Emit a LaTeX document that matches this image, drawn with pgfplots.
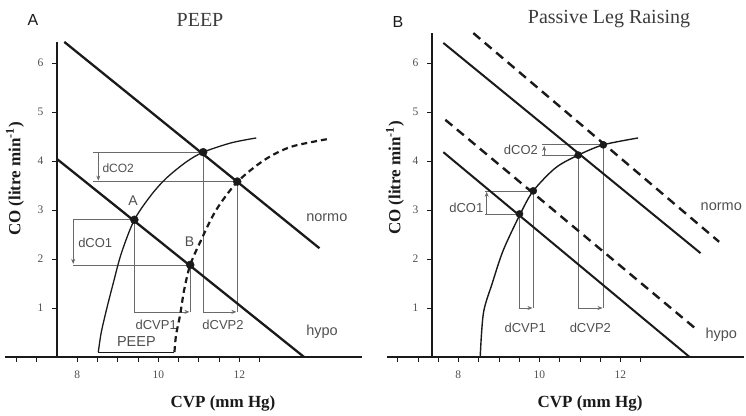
\documentclass[border=0pt]{standalone}
\usepackage{fontspec}
\setmainfont{Liberation Serif}
\newfontfamily\sansf{Liberation Sans}
\usepackage{pgfplots}
\pgfplotsset{compat=1.18}
\usetikzlibrary{arrows.meta}
\definecolor{ink}{HTML}{1A1A1A}
\definecolor{ann}{HTML}{6A6A6A}
\definecolor{lab}{HTML}{505050}
\tikzset{
 annl/.style={ann, line width=0.7pt},
 arr/.style={ann, line width=0.7pt, -{Stealth[length=5pt,width=4pt]}},
 atxt/.style={font=\sansf\fontsize{13}{14}\selectfont, text=lab, inner sep=0pt},
}
\pgfplotsset{
 panel/.style={
  axis lines=middle,
  axis line style={-, ink, line width=1.4pt},
  every inner x axis line/.append style={-},
  every inner y axis line/.append style={-},
  x=40.5pt, y=49pt,
  enlargelimits=false,
  clip=false,
  ymin=0,
  ytick={1,2,3,4,5,6},
  tick align=outside,
  major tick length=5pt, minor tick length=5pt,
  every tick/.style={ink, line width=0.6pt},
  every minor tick/.style={ink, line width=0.6pt},
  tick label style={font=\fontsize{11.5}{13}\selectfont, text=lab},
  yticklabel style={xshift=-5pt},
  xticklabel style={yshift=-5pt},
  /pgf/number format/assume math mode=true,
 },
}
\begin{document}
\begin{tikzpicture}
\useasboundingbox (0,0) rectangle (746pt,415pt);
% ---------------- Panel A ----------------
\begin{axis}[panel, at={(57pt,58pt)}, anchor=origin,
  xmin=-1.28, xmax=7.53, ymax=6.43,
  x filter/.expression={x-7.5},
  xtick={0.5,2.5,4.5}, xticklabels={8,10,12},
  minor xtick={-1,-0.5,1,1.5,2,3,3.5,4,5}]
% annotation lines
\addplot[annl] coordinates {(8.40,4.18) (11.11,4.18)};
\addplot[annl] coordinates {(8.40,3.58) (11.95,3.58)};
\addplot[arr] coordinates {(8.52,4.18) (8.52,3.60)};
\addplot[annl] coordinates {(7.90,2.80) (9.41,2.80)};
\addplot[annl] coordinates {(7.90,1.88) (10.79,1.88)};
\addplot[arr] coordinates {(7.90,2.80) (7.90,1.90)};
\addplot[annl] coordinates {(9.41,2.80) (9.41,0.92)};
\addplot[annl] coordinates {(10.79,1.88) (10.79,0.92)};
\addplot[arr] coordinates {(9.41,0.92) (10.77,0.92)};
\addplot[annl] coordinates {(11.11,4.18) (11.11,0.92)};
\addplot[annl] coordinates {(11.95,3.58) (11.95,0.92)};
\addplot[arr] coordinates {(11.11,0.92) (11.93,0.92)};
% normo and hypo lines
\addplot[ink, line width=2.3pt] coordinates {(7.68,6.43) (13.98,2.22)};
\addplot[ink, line width=2.3pt] coordinates {(7.50,4.04) (13.60,0)};
% cardiac function curve
\addplot[ink, line width=1.3pt, smooth] coordinates {
 (8.52,0.10) (8.59,0.49) (8.72,0.96) (8.89,1.51) (9.09,2.12) (9.41,2.80)
 (9.83,3.31) (10.20,3.65) (10.69,3.98) (11.11,4.18) (11.80,4.37) (12.42,4.47)};
% PEEP shifted curve
\addplot[ink, line width=2.2pt, dash pattern=on 6pt off 4pt, smooth] coordinates {
 (10.40,0.10) (10.44,0.45) (10.54,0.86) (10.64,1.37) (10.79,1.88) (11.06,2.39)
 (11.43,3.00) (11.95,3.57) (12.62,4.02) (13.28,4.29) (14.20,4.45)};
\addplot[ink, line width=1.2pt] coordinates {(8.52,0.10) (10.40,0.10)};
% points
\addplot[only marks, mark=*, mark size=4pt, ink] coordinates {
 (9.41,2.80) (10.79,1.88) (11.11,4.18) (11.95,3.58)};
% labels (x already shifted by 7.5)
\node[atxt, anchor=west, font=\sansf\fontsize{12}{13}\selectfont] at (axis cs:1.12,3.86) {dCO2};
\node[atxt, anchor=west] at (axis cs:0.52,2.33) {dCO1};
\node[atxt] at (axis cs:2.45,0.65) {dCVP1};
\node[atxt, font=\sansf\fontsize{14.5}{15}\selectfont] at (axis cs:1.96,0.31) {PEEP};
\node[atxt] at (axis cs:4.10,0.65) {dCVP2};
\node[atxt, font=\sansf\fontsize{14}{15}\selectfont] at (axis cs:1.88,3.20) {A};
\node[atxt, font=\sansf\fontsize{14}{15}\selectfont] at (axis cs:3.27,2.35) {B};
\node[atxt, anchor=west, font=\sansf\fontsize{14.5}{15}\selectfont] at (axis cs:6.15,2.84) {normo};
\node[atxt, anchor=west, font=\sansf\fontsize{14.5}{15}\selectfont] at (axis cs:6.15,0.51) {hypo};
\end{axis}
% ---------------- Panel B ----------------
\begin{axis}[panel, at={(432pt,58pt)}, anchor=origin,
  xmin=-1.11, xmax=7.70, ymax=6.61,
  x filter/.expression={x-7.35},
  xtick={0.65,2.65,4.65}, xticklabels={8,10,12},
  minor xtick={-0.85,-0.35,0.15,1.15,1.65,2.15,3.15,3.65,4.15,5.15}]
% annotation lines
\addplot[annl] coordinates {(8.67,3.39) (9.85,3.39)};
\addplot[annl] coordinates {(8.67,2.92) (9.51,2.92)};
\addplot[arr] coordinates {(8.70,2.92) (8.70,3.37)};
\addplot[annl] coordinates {(10.07,4.33) (11.58,4.33)};
\addplot[annl] coordinates {(10.07,4.12) (10.96,4.12)};
\addplot[arr] coordinates {(10.12,4.12) (10.12,4.31)};
\addplot[annl] coordinates {(9.51,2.92) (9.51,1.0)};
\addplot[annl] coordinates {(9.85,3.39) (9.85,1.0)};
\addplot[arr] coordinates {(9.51,1.0) (9.83,1.0)};
\addplot[annl] coordinates {(10.96,4.12) (10.96,1.0)};
\addplot[annl] coordinates {(11.58,4.33) (11.58,1.0)};
\addplot[arr] coordinates {(10.96,1.0) (11.56,1.0)};
% lines
\addplot[ink, line width=2pt] coordinates {(7.63,6.41) (13.98,2.12)};
\addplot[ink, line width=2.4pt, dash pattern=on 9pt off 6pt] coordinates {(8.37,6.61) (14.44,2.35)};
\addplot[ink, line width=2pt] coordinates {(7.63,4.18) (13.71,0)};
\addplot[ink, line width=2.4pt, dash pattern=on 9pt off 6pt] coordinates {(7.68,4.84) (13.90,0.55)};
% curve
\addplot[ink, line width=1.4pt, smooth] coordinates {
 (8.54,0.0) (8.62,0.90) (8.84,1.51) (9.11,2.18) (9.53,2.92) (9.85,3.39)
 (10.40,3.86) (10.96,4.12) (11.58,4.33) (12.44,4.47)};
\addplot[only marks, mark=*, mark size=3.6pt, ink] coordinates {
 (9.51,2.92) (9.85,3.39) (10.96,4.12) (11.58,4.33)};
% labels (x already shifted by 7.35)
\node[atxt, anchor=east] at (axis cs:1.27,3.04) {dCO1};
\node[atxt, anchor=east] at (axis cs:2.62,4.22) {dCO2};
\node[atxt] at (axis cs:2.30,0.59) {dCVP1};
\node[atxt] at (axis cs:3.91,0.59) {dCVP2};
\node[atxt, anchor=west, font=\sansf\fontsize{14.5}{15}\selectfont] at (axis cs:6.63,3.06) {normo};
\node[atxt, anchor=west, font=\sansf\fontsize{14.5}{15}\selectfont] at (axis cs:6.75,0.45) {hypo};
\end{axis}
% titles and axis names
\node[font=\sansf\fontsize{16}{17}\selectfont, text=ink] at (33pt,395pt) {A};
\node[font=\sansf\fontsize{16}{17}\selectfont, text=ink] at (398pt,393pt) {B};
\node[font=\fontsize{20}{22}\selectfont, text=ink!85] at (200pt,395pt) {PEEP};
\node[font=\fontsize{20}{22}\selectfont, text=ink!85] at (609pt,396pt) {Passive Leg Raising};
\node[font=\bfseries\fontsize{17}{18}\selectfont, text=ink] at (223pt,12pt) {CVP (mm Hg)};
\node[font=\bfseries\fontsize{17}{18}\selectfont, text=ink] at (590pt,12pt) {CVP (mm Hg)};
\node[font=\bfseries\fontsize{17}{18}\selectfont, text=ink, rotate=90] at (15pt,236pt) {CO (litre min\textsuperscript{-1})};
\node[font=\bfseries\fontsize{17}{18}\selectfont, text=ink, rotate=90] at (395pt,237pt) {CO (litre min\textsuperscript{-1})};
\end{tikzpicture}
\end{document}
